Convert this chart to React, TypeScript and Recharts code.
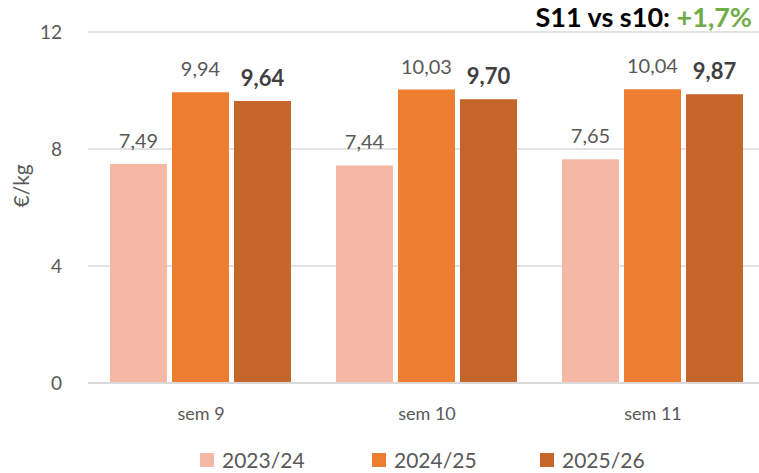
import React from 'react';
import { BarChart, Bar, XAxis, YAxis, CartesianGrid, LabelList } from 'recharts';

const categories = ['sem 9', 'sem 10', 'sem 11'];
const s2324 = [7.49, 7.44, 7.65];
const s2425 = [9.94, 10.03, 10.04];
const s2526 = [9.64, 9.70, 9.87];
const yTicks = [0, 4, 8, 12];
const seriesNames = ['2023/24', '2024/25', '2025/26'];
const colors = ['#F4B8A4', '#ED7D31', '#C5652A'];

const data = categories.map((c, i) => ({ name: c, a: s2324[i], b: s2425[i], c: s2526[i] }));

const fmt = (v: any) => Number(v).toFixed(2).replace('.', ',');
const font = 'Lato, "Open Sans", sans-serif';
const legendX = [200, 372, 540];

function LegendBox() {
  return (
    <>
      {seriesNames.map((n, i) => (
        <div key={n} style={{ position: 'absolute', left: legendX[i], top: 448, display: 'flex', alignItems: 'center', fontFamily: font, fontSize: 21, color: '#595959', lineHeight: '24px', whiteSpace: 'nowrap' }}>
          <span style={{ width: 14, height: 14, background: colors[i], display: 'inline-block', marginRight: 8 }} />
          {n}
        </div>
      ))}
    </>
  );
}

export default function App() {
  return (
    <div style={{ position: 'fixed', left: 0, top: 0, width: 759, height: 473, overflow: 'hidden', background: '#fff', fontFamily: font }}>
      <BarChart width={770} height={473} data={data} margin={{ top: 32, right: 4, bottom: 42, left: 0 }} barCategoryGap={22} barGap={5}>
        <CartesianGrid vertical={false} stroke="#D9D9D9" strokeWidth={1.5} />
        <XAxis dataKey="name" axisLine={{ stroke: '#D9D9D9', strokeWidth: 2 }} tickLine={false} tick={{ fill: '#595959', fontSize: 18, fontFamily: font }} tickMargin={18} height={48} />
        <YAxis domain={[0, 12]} ticks={yTicks} axisLine={false} tickLine={false} width={88} tickMargin={20}
          tick={{ fill: '#595959', fontSize: 19, fontFamily: font }}
          label={{ value: '€/kg', angle: -90, position: 'insideLeft', offset: 22, fill: '#595959', fontSize: 21, fontFamily: font }} />
        <Bar dataKey="a" name={seriesNames[0]} fill={colors[0]} isAnimationActive={false}>
          <LabelList dataKey="a" position="top" offset={16} formatter={fmt} fill="#595959" fontSize={20} fontFamily={font} />
        </Bar>
        <Bar dataKey="b" name={seriesNames[1]} fill={colors[1]} isAnimationActive={false}>
          <LabelList dataKey="b" position="top" offset={16} formatter={fmt} fill="#595959" fontSize={20} fontFamily={font} />
        </Bar>
        <Bar dataKey="c" name={seriesNames[2]} fill={colors[2]} isAnimationActive={false}>
          <LabelList dataKey="c" position="top" offset={15} formatter={fmt} fill="#404040" fontSize={22} fontWeight="bold" fontFamily={font} />
        </Bar>
      </BarChart>
      <LegendBox />
      <div style={{ position: 'absolute', right: 7, top: 0, fontSize: 27, fontWeight: 'bold', fontFamily: font, color: '#000', lineHeight: '34px' }}>
        S11 vs s10: <span style={{ color: '#70AD47' }}>+1,7%</span>
      </div>
    </div>
  );
}
